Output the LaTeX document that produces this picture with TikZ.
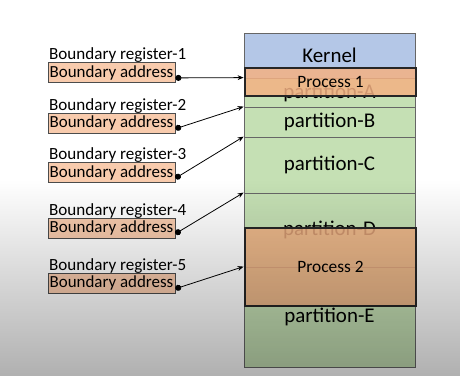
\documentclass[tikz,border=0pt]{standalone}
\usepackage{fontspec}
\setmainfont{Carlito}
\usetikzlibrary{arrows.meta,positioning,fadings}
\definecolor{kernelblue}{HTML}{B4C7E7}
\definecolor{partgreen}{HTML}{C5E0B4}
\definecolor{procorange}{HTML}{F4B183}
\definecolor{addrfill}{HTML}{F8CBAD}
\tikzfading[name=dimdown, top color=transparent!100, bottom color=transparent!0]

\begin{document}
\begin{tikzpicture}[
  x=0.75pt, y=-0.75pt,
  addr/.style={draw=black!70, fill=addrfill, line width=0.6pt,
               font=\fontsize{12.7}{14}\selectfont,
               minimum width=95.25pt, minimum height=15pt, inner sep=0.5pt},
  reg/.style={font=\fontsize{12.8}{14}\selectfont, inner sep=1pt},
  seg/.style={draw=black!60, fill=partgreen, line width=0.6pt,
              minimum width=128.25pt, inner sep=0pt,
              font=\fontsize{15.7}{17}\selectfont},
  proc/.style={draw=black!85, fill=procorange, fill opacity=0.85, text opacity=1,
               line width=0.9pt, minimum width=128.25pt, inner sep=0pt,
               font=\fontsize{13}{14}\selectfont},
  ptr/.style={{Circle[length=4.5pt]}-{Stealth[length=4.5pt,width=3.6pt]}, line width=0.6pt},
]
\useasboundingbox[fill=white] (0,0) rectangle (460,376);

% Memory column
\node[seg, fill=kernelblue, minimum height=33.75pt] (kern) at (329.5,55.5) {Kernel};
\node[seg, minimum height=21.75pt] (pA) at (329.5,92.5) {partition-A};
\node[seg, minimum height=22.5pt]  (pB) at (329.5,122)  {partition-B};
\node[seg, minimum height=42pt]    (pC) at (329.5,165)  {partition-C};
\node[seg, minimum height=55.5pt]  (pD) at (329.5,230)  {partition-D};
\node[seg, minimum height=75pt]    (pE) at (329.5,317)  {partition-E};

% Processes loaded on top
\node[proc, minimum height=21pt]   (p1) at (330.5,82)  {Process 1};
\node[proc, minimum height=58.5pt] (p2) at (330.5,267) {Process 2};

% Boundary registers
\node[addr] (addr1) at (111.5,72.5) {Boundary address};
\node[addr] (addr2) at (111.5,123)  {Boundary address};
\node[addr] (addr3) at (111.5,172.5) {Boundary address};
\node[addr] (addr4) at (111.5,228)  {Boundary address};
\node[addr] (addr5) at (111.5,283)  {Boundary address};

\node[reg, above right=-1.5pt and 0pt of addr1.north west] (reg1) {Boundary register-1};
\node[reg, above right=-1.5pt and 0pt of addr2.north west] (reg2) {Boundary register-2};
\node[reg, above right=-1.5pt and 0pt of addr3.north west] (reg3) {Boundary register-3};
\node[reg, above right=-1.5pt and 0pt of addr4.north west] (reg4) {Boundary register-4};
\node[reg, above right=-1.5pt and 0pt of addr5.north west] (reg5) {Boundary register-5};

% Pointers to partition starts
\draw[ptr] ([yshift=3.75pt]addr1.south east) -- (pA.north west);
\draw[ptr] ([yshift=3.5pt]addr2.south east) -- (pB.north west);
\draw[ptr] ([yshift=3.5pt]addr3.south east) -- (pC.north west);
\draw[ptr] ([yshift=3.5pt]addr4.south east) -- (pD.north west);
\draw[ptr] ([yshift=3.5pt]addr5.south east) -- (pE.north west);

% Dimming toward the bottom
\fill[black, opacity=0.31, path fading=dimdown] (0,180) rectangle (460,376);

\end{tikzpicture}
\end{document}
